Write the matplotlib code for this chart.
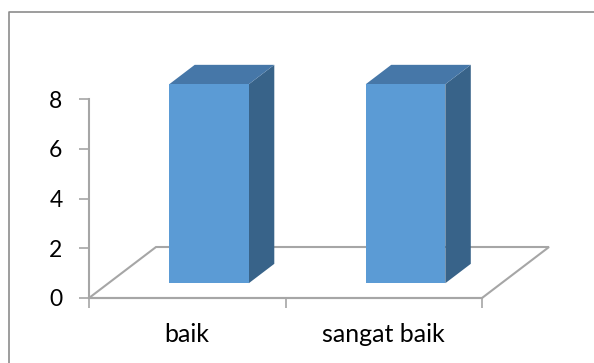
import matplotlib
matplotlib.use('Agg')
import matplotlib.pyplot as plt
from matplotlib.patches import Polygon
from matplotlib.lines import Line2D

# --- data ---
categories = ['baik', 'sangat baik']
values = [8, 8]
y_ticks = [0, 2, 4, 6, 8]

# --- 3D look (oblique projection in data units) ---
depth_dx = 0.341   # x shift for full floor depth
depth_dy = 2.05    # y shift for full floor depth
bar_width = 0.405
bar_offset = 0.012
z_front, z_back = 0.29, 0.67

face_col = '#5b9bd5'
side_col = '#386389'
top_col = '#4677a8'
grid_col = '#a6a6a6'

plt.rcParams['font.family'] = ['Lato', 'DejaVu Sans']


def proj(x, y, z):
    return (x + z * depth_dx, y + z * depth_dy)


fig = plt.figure(figsize=(5.94, 3.63), dpi=100)
ax = fig.add_axes([89 / 594, 1 - 298 / 363, 393 / 594, 199 / 363])
ax.set_xlim(0, len(categories))
ax.set_ylim(0, max(y_ticks))

# floor
floor = [proj(0, 0, 0), proj(len(categories), 0, 0),
         proj(len(categories), 0, 1), proj(0, 0, 1)]
ax.add_patch(Polygon(floor, closed=True, fill=False, edgecolor=grid_col,
                     lw=1.5, clip_on=False, zorder=1))

# bars
for i, v in enumerate(values):
    c = i + 0.5 + bar_offset
    x0, x1 = c - bar_width / 2, c + bar_width / 2
    front = [proj(x0, 0, z_front), proj(x1, 0, z_front),
             proj(x1, v, z_front), proj(x0, v, z_front)]
    side = [proj(x1, 0, z_front), proj(x1, 0, z_back),
            proj(x1, v, z_back), proj(x1, v, z_front)]
    top = [proj(x0, v, z_front), proj(x1, v, z_front),
           proj(x1, v, z_back), proj(x0, v, z_back)]
    for pts, col in [(side, side_col), (top, top_col), (front, face_col)]:
        ax.add_patch(Polygon(pts, closed=True, facecolor=col, edgecolor='none',
                             clip_on=False, zorder=3))

# axes styling
for s in ['top', 'right']:
    ax.spines[s].set_visible(False)
for s in ['left', 'bottom']:
    ax.spines[s].set_color(grid_col)
    ax.spines[s].set_linewidth(1.5)
    ax.spines[s].set_zorder(2)

ax.set_yticks(y_ticks)
ax.tick_params(axis='y', direction='out', length=7, width=1.2, color=grid_col,
               labelsize=16.5, pad=12, labelcolor='black')
ax.set_xticks(range(len(categories) + 1))
ax.set_xticklabels([])
ax.tick_params(axis='x', which='major', direction='out', length=7, width=1.2,
               color=grid_col)
ax.set_xticks([i + 0.5 for i in range(len(categories))], minor=True)
ax.set_xticklabels(categories, minor=True)
ax.tick_params(axis='x', which='minor', length=0, labelsize=18, pad=18)

# chart border (left and top)
fig.add_artist(Line2D([9 / 594, 9 / 594, 1], [0, 1 - 12 / 363, 1 - 12 / 363],
                      transform=fig.transFigure, color='#8c8c8c', lw=1.2))

fig.savefig('out.png', dpi=100)
